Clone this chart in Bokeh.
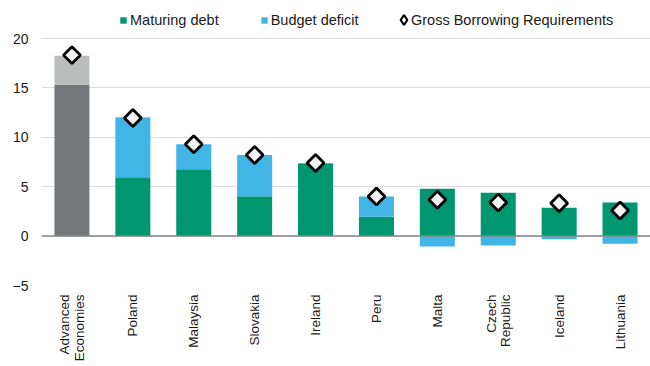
from bokeh.plotting import figure
from bokeh.models import Range1d, FixedTicker, Legend, LegendItem, Span, ColumnDataSource
from bokeh.embed import file_html
from bokeh.resources import INLINE
import math

categories = ["Advanced\nEconomies", "Poland", "Malaysia", "Slovakia", "Ireland", "Peru",
              "Malta", "Czech\nRepublic", "Iceland", "Lithuania"]
maturing_debt = [15.32, 5.96, 6.77, 4.04, 7.31, 1.96, 4.79, 4.38, 2.87, 3.40]
budget_deficit = [2.93, 6.06, 2.52, 4.18, 0.1, 2.05, -1.04, -0.94, -0.33, -0.77]
gross_borrowing = [18.32, 11.96, 9.29, 8.22, 7.41, 4.01, 3.68, 3.40, 3.33, 2.6]
y_ticks = [-5, 0, 5, 10, 15, 20]

GREEN = "#009670"
BLUE = "#41b6e6"
DGRAY = "#75787b"
LGRAY = "#bbbcbc"
FONT = "Liberation Sans"

xs = list(range(len(categories)))
m_col = [DGRAY] + [GREEN] * (len(categories) - 1)
d_col = [LGRAY] + [BLUE] * (len(categories) - 1)
d_bottom = [m if d >= 0 else 0 for m, d in zip(maturing_debt, budget_deficit)]
d_top = [m + d if d >= 0 else d for m, d in zip(maturing_debt, budget_deficit)]

src = ColumnDataSource(dict(x=xs, m=maturing_debt, mc=m_col, db=d_bottom, dt=d_top, dc=d_col,
                            g=gross_borrowing))

p = figure(width=650, height=366, output_backend="svg", toolbar_location=None,
           x_range=Range1d(-0.5, 9.5), y_range=Range1d(-5, 23.04),
           min_border_left=41, min_border_right=0, min_border_top=8, min_border_bottom=81)
p.outline_line_color = None
p.background_fill_color = "white"

r_m = p.vbar(x="x", width=0.575, bottom=0, top="m", fill_color="mc", line_color=None, source=src)
r_d = p.vbar(x="x", width=0.575, bottom="db", top="dt", fill_color="dc", line_color=None, source=src)
p.add_layout(Span(location=0, dimension="width", line_color="#868686", line_width=1.5))
r_g = p.scatter(x="x", y="g", marker="square", angle=math.pi / 4, size=12, fill_color="#f2f2f2",
                line_color="black", line_width=2.8, source=src)
# legend-only proxy glyphs (a single NaN point, never drawn on the plot)
nan = float("nan")
r_g_leg = p.scatter(x=[nan], y=[nan], marker="diamond", fill_color="white",
                    line_color="black", line_width=2.2)
r_txt = p.scatter(x=[nan], y=[nan], marker="square", fill_alpha=0, line_alpha=0)

p.xaxis.ticker = FixedTicker(ticks=xs)
p.xaxis.major_label_overrides = {i: c for i, c in enumerate(categories)}
p.xaxis.major_label_orientation = math.pi / 2
p.xaxis.axis_line_color = None
p.xaxis.major_tick_line_color = None
p.xaxis.major_tick_out = 0
p.xaxis.minor_tick_line_color = None
p.xaxis.major_label_text_font = FONT
p.xaxis.major_label_text_font_size = "13.5px"
p.xaxis.major_label_text_color = "#1a1a1a"
p.xaxis.major_label_standoff = 9
p.xaxis.major_label_text_line_height = 0.95

p.yaxis.ticker = FixedTicker(ticks=y_ticks)
p.yaxis.axis_line_color = None
p.yaxis.major_tick_line_color = None
p.yaxis.major_tick_out = 0
p.yaxis.minor_tick_line_color = None
p.yaxis.major_label_text_font = FONT
p.yaxis.major_label_text_font_size = "14px"
p.yaxis.major_label_text_color = "#1a1a1a"
p.yaxis.major_label_standoff = 13

p.xgrid.grid_line_color = None
p.ygrid.ticker = FixedTicker(ticks=y_ticks)
p.ygrid.grid_line_color = "#dcdcdc"
p.ygrid.grid_line_width = 1.2


def style(lg):
    lg.label_text_font = FONT
    lg.label_text_font_size = "14.5px"
    lg.label_text_color = "#1a1a1a"
    lg.padding = 0
    lg.margin = 0
    lg.border_line_color = None
    lg.background_fill_alpha = 0
    lg.orientation = "horizontal"


legend1 = Legend(items=[
    LegendItem(label="Maturing debt", renderers=[r_m], index=1),
    LegendItem(label="Budget deficit", renderers=[r_d], index=1),
], location=(78, 257))
style(legend1)
legend1.glyph_width = 8
legend1.glyph_height = 8
legend1.label_standoff = 3
legend1.spacing = 41
p.add_layout(legend1, "center")

legend_diamond = Legend(items=[LegendItem(label=" ", renderers=[r_g_leg], index=0)],
                        location=(350, 253))
style(legend_diamond)
legend_diamond.glyph_width = 25
legend_diamond.glyph_height = 25
legend_diamond.label_standoff = 0
p.add_layout(legend_diamond, "center")

legend2 = Legend(items=[
    LegendItem(label="Gross Borrowing Requirements", renderers=[r_txt], index=0),
], location=(369, 257))
style(legend2)
legend2.glyph_width = 1
legend2.glyph_height = 8
legend2.label_standoff = 0
p.add_layout(legend2, "center")

open("out.html", "w").write(file_html(p, INLINE))
